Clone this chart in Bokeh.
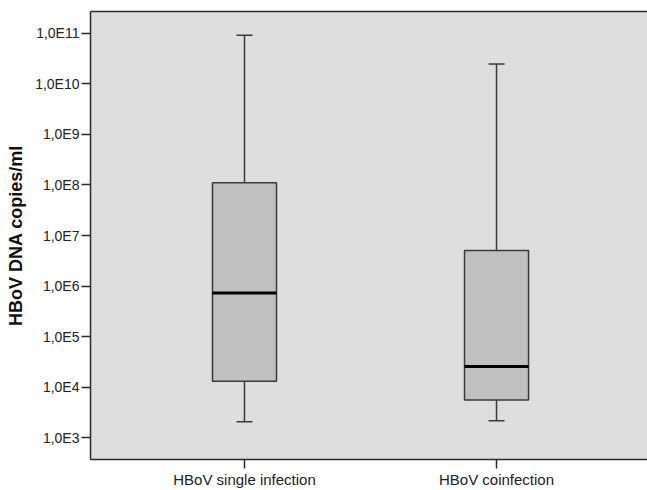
from bokeh.plotting import figure
from bokeh.models import FixedTicker, CustomJSTickFormatter, Range1d, LinearAxis
from bokeh.embed import file_html
from bokeh.resources import INLINE

# ---- data ----
categories = ["HBoV single infection", "HBoV coinfection"]
whisker_low = [2.06e3, 2.16e3]
q1 = [1.31e4, 5.55e3]
median = [7.3e5, 2.57e4]
q3 = [1.1e8, 5.07e6]
whisker_high = [9.13e10, 2.47e10]

y_tick_values = [1e3, 1e4, 1e5, 1e6, 1e7, 1e8, 1e9, 1e10, 1e11]
y_tick_labels = ["1,0E3", "1,0E4", "1,0E5", "1,0E6", "1,0E7",
                 "1,0E8", "1,0E9", "1,0E10", "1,0E11"]
y_title = "HBoV DNA copies/ml"

xs = [i + 1 for i in range(len(categories))]
box_w = 0.254
cap_w = 0.0635

p = figure(width=647, height=490, output_backend="svg", toolbar_location=None,
           y_axis_type="log",
           x_range=Range1d(0.389, 2.599),
           y_range=Range1d(10 ** 2.568, 10 ** 11.432),
           min_border_left=90, min_border_right=0, min_border_top=11,
           min_border_bottom=28)

p.background_fill_color = "#dedede"
p.border_fill_color = "white"
p.outline_line_color = None
p.xgrid.visible = False
p.ygrid.visible = False

xa = p.below[0]
ya = p.left[0]

# top frame line (no right border in the reference)
top_axis = LinearAxis(ticker=FixedTicker(ticks=[]), axis_line_color="#2a2a2a",
                      axis_line_width=1.5, major_tick_line_color=None,
                      major_tick_out=0, major_tick_in=0,
                      minor_tick_line_color=None, minor_tick_out=0,
                      major_label_text_font_size="0px", major_label_standoff=0)
p.add_layout(top_axis, "above")

line_col = "#3a3a3a"
# whiskers
p.segment(x0=xs, y0=q3, x1=xs, y1=whisker_high, line_color=line_col, line_width=1.5)
p.segment(x0=xs, y0=q1, x1=xs, y1=whisker_low, line_color=line_col, line_width=1.5)
# caps
p.segment(x0=[x - cap_w / 2 for x in xs], y0=whisker_high,
          x1=[x + cap_w / 2 for x in xs], y1=whisker_high,
          line_color=line_col, line_width=1.5)
p.segment(x0=[x - cap_w / 2 for x in xs], y0=whisker_low,
          x1=[x + cap_w / 2 for x in xs], y1=whisker_low,
          line_color=line_col, line_width=1.5)
# boxes
p.vbar(x=xs, width=box_w, bottom=q1, top=q3, fill_color="#c0c0c0",
       line_color=line_col, line_width=1.5)
# medians
p.segment(x0=[x - box_w / 2 for x in xs], y0=median,
          x1=[x + box_w / 2 for x in xs], y1=median,
          line_color="black", line_width=3)

# y axis
ya.ticker = FixedTicker(ticks=y_tick_values)
ya.formatter = CustomJSTickFormatter(args=dict(labels=y_tick_labels), code="""
    const e = Math.round(Math.log10(tick));
    return labels[e - 3];
""")
ya.minor_tick_line_color = None
ya.major_tick_out = 9
ya.major_tick_in = 0
ya.major_label_standoff = 2
ya.major_label_text_font = "Liberation Sans"
ya.major_label_text_font_size = "14px"
ya.major_label_text_color = "#222222"
ya.axis_line_color = "#2a2a2a"
ya.axis_line_width = 1.5
ya.major_tick_line_color = "#2a2a2a"
ya.major_tick_line_width = 1.5
ya.axis_label = y_title
ya.axis_label_text_font = "Liberation Sans"
ya.axis_label_text_font_style = "bold"
ya.axis_label_text_font_size = "18px"
ya.axis_label_text_color = "#111111"
ya.axis_label_standoff = 6

# x axis
xa.ticker = FixedTicker(ticks=xs)
xa.formatter = CustomJSTickFormatter(args=dict(labels=categories), code="""
    return labels[Math.round(tick) - 1];
""")
xa.minor_tick_line_color = None
xa.major_tick_out = 9
xa.major_tick_in = 0
xa.major_label_standoff = 2
xa.major_label_text_font = "Liberation Sans"
xa.major_label_text_font_size = "15px"
xa.major_label_text_color = "#222222"
xa.axis_line_color = "#2a2a2a"
xa.axis_line_width = 1.5
xa.major_tick_line_color = "#2a2a2a"
xa.major_tick_line_width = 1.5

open("out.html", "w").write(file_html(p, INLINE))
